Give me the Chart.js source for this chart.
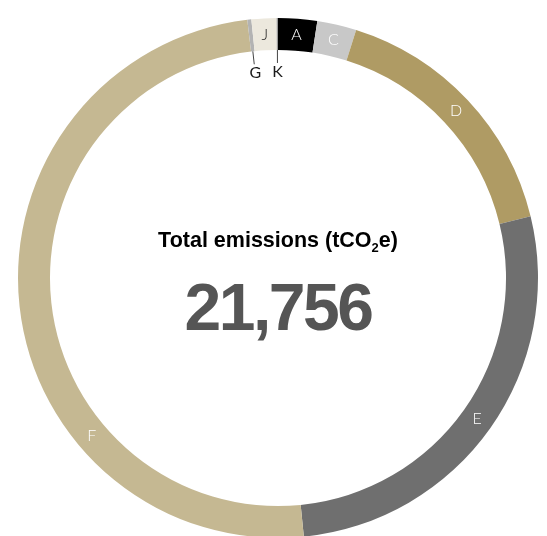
<!DOCTYPE html>
<html>
<head>
<meta charset="utf-8">
<script src="https://cdn.jsdelivr.net/npm/chart.js@4.4.1/dist/chart.umd.min.js"></script>
<style>
  html, body { margin: 0; padding: 0; background: #fff; overflow: hidden; }
  #wrap { position: absolute; left: 0; top: 0; width: 556px; height: 556px; }
</style>
</head>
<body>
<div id="wrap"><canvas id="emissionsChart" width="556" height="556"></canvas></div>
<script>
// ========= Data =========
const categories = ['A', 'B', 'C', 'D', 'E', 'F', 'G', 'H', 'I', 'J', 'K'];
const emissions = [526, 0, 531, 3553, 5923, 10813, 54, 0, 0, 338, 18];
const totalLabel = '21,756';

// Brand colors
const colors = {
  A: '#000000',
  B: '#8c8c8c',
  C: '#c8c8c8',
  D: '#af9b64',
  E: '#6f6f6f',
  F: '#c5b892',
  G: '#b3b3b3',
  H: '#9a9a9a',
  I: '#9a9a9a',
  J: '#ece8dd',
  K: '#999999'
};

// labels that sit under the ring with a leader line
const outsideLabels = ['G', 'K'];
const darkLabels = ['J'];
// where along its arc a label sits (default middle)
const labelAlong = { F: 0.31 };

// ========= Segment labels =========
const segmentLabels = {
  id: 'segmentLabels',
  afterDatasetsDraw(chart) {
    const ctx = chart.ctx;
    const meta = chart.getDatasetMeta(0);
    ctx.save();
    ctx.textAlign = 'center';
    ctx.textBaseline = 'middle';
    meta.data.forEach((arc, i) => {
      const name = categories[i];
      if (!emissions[i]) return;
      const p = arc.getProps(['x', 'y', 'startAngle', 'endAngle', 'innerRadius', 'outerRadius'], true);
      const t = labelAlong[name] !== undefined ? labelAlong[name] : 0.5;
      const a = p.startAngle + (p.endAngle - p.startAngle) * t;
      if (outsideLabels.includes(name)) {
        const r0 = p.innerRadius;
        const r1 = p.innerRadius - 13;
        ctx.strokeStyle = '#444';
        ctx.lineWidth = 1;
        ctx.beginPath();
        ctx.moveTo(p.x + Math.cos(a) * r0, p.y + Math.sin(a) * r0);
        ctx.lineTo(p.x + Math.cos(a) * r1, p.y + Math.sin(a) * r1);
        ctx.stroke();
        const r2 = p.innerRadius - 22;
        ctx.font = "400 16px 'Lato', 'Helvetica Neue', sans-serif";
        ctx.fillStyle = '#1a1a1a';
        ctx.fillText(name, p.x + Math.cos(a) * r2, p.y + Math.sin(a) * r2);
      } else {
        const r = (p.innerRadius + p.outerRadius) / 2;
        ctx.font = "300 16px 'Lato', 'Helvetica Neue', sans-serif";
        ctx.fillStyle = darkLabels.includes(name) ? '#222' : '#fff';
        ctx.fillText(name, p.x + Math.cos(a) * r, p.y + Math.sin(a) * r);
      }
    });
    ctx.restore();
  }
};

// ========= Center text =========
const centerText = {
  id: 'centerText',
  afterDraw(chart) {
    const ctx = chart.ctx;
    const meta = chart.getDatasetMeta(0);
    const cx = meta.data[0].x;
    const cy = meta.data[0].y;
    ctx.save();

    // title with subscript 2
    const big = "bold 21.5px 'Liberation Sans', Arial, sans-serif";
    const small = "bold 13px 'Liberation Sans', Arial, sans-serif";
    const parts = [['Total emissions (tCO', big, 0], ['2', small, 5], ['e)', big, 0]];
    let w = 0;
    parts.forEach(([s, f]) => { ctx.font = f; w += ctx.measureText(s).width; });
    let x = cx - w / 2;
    ctx.fillStyle = '#000';
    ctx.textAlign = 'left';
    ctx.textBaseline = 'alphabetic';
    parts.forEach(([s, f, dy]) => {
      ctx.font = f;
      ctx.fillText(s, x, cy - 31 + dy);
      x += ctx.measureText(s).width;
    });

    // total number
    ctx.font = "bold 66px 'Liberation Sans', Arial, sans-serif";
    ctx.letterSpacing = '-2.5px';
    ctx.fillStyle = '#555555';
    ctx.textAlign = 'center';
    ctx.fillText(totalLabel, cx, cy + 52);
    ctx.restore();
  }
};

// ========= Doughnut =========
const chartCtx = document.getElementById('emissionsChart');
new Chart(chartCtx, {
  type: 'doughnut',
  data: {
    labels: categories,
    datasets: [{
      data: emissions,
      backgroundColor: categories.map(c => colors[c]),
      borderWidth: 0,
      hoverOffset: 0
    }]
  },
  options: {
    responsive: false,
    animation: false,
    cutout: '87.7%',
    layout: { padding: 18 },
    plugins: {
      legend: { display: false },
      tooltip: { enabled: false }
    }
  },
  plugins: [segmentLabels, centerText]
});
</script>
</body>
</html>
